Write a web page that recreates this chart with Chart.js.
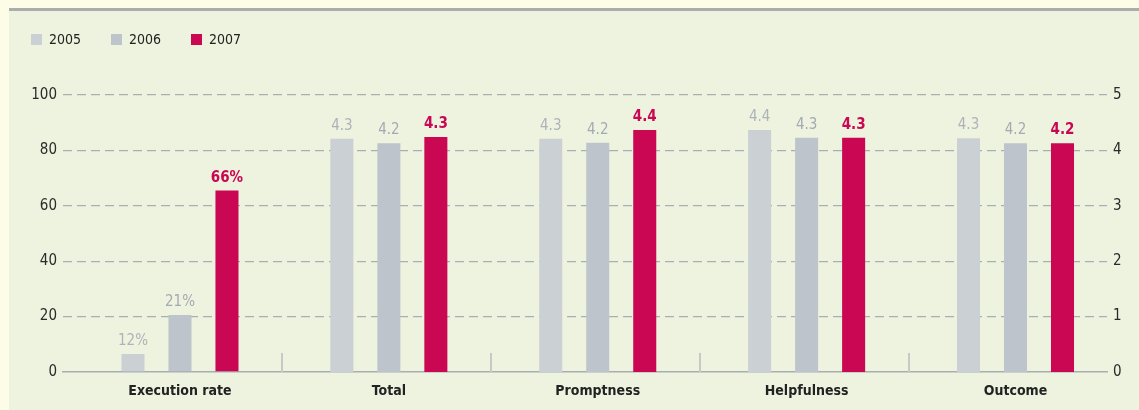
<!DOCTYPE html>
<html>
<head>
<meta charset="utf-8">
<script src="https://cdn.jsdelivr.net/npm/chart.js@4.4.0/dist/chart.umd.min.js"></script>
<style>
  html, body { margin: 0; padding: 0; background: #fdfde7; width: 1139px; height: 410px; overflow: hidden; }
  .panel { position: absolute; left: 9px; top: 8px; width: 1130px; height: 399px; background: #eef3df; border-top: 3px solid #aaadab; }
  .panel canvas { position: absolute; left: 0; top: 0; }
  .legend { position: absolute; left: 22px; top: 20px; display: flex; font-family: "Liberation Sans Narrow", "DejaVu Sans Condensed", Roboto, sans-serif; font-size: 14px; color: #222; }
  .legend .item { width: 80px; display: flex; align-items: center; }
  .legend .box { width: 11px; height: 11px; margin-right: 7px; }
</style>
</head>
<body>
<div class="panel">
  <canvas id="chart" width="1130" height="399"></canvas>
  <div class="legend" id="legend"></div>
</div>
<script>
const FONT = '"Liberation Sans Narrow", "DejaVu Sans Condensed", Roboto, sans-serif';

const categories = ['Execution rate', 'Total', 'Promptness', 'Helpfulness', 'Outcome'];
const years = ['2005', '2006', '2007'];
const yearColors = ['#cbd0d4', '#bdc4cb', '#c90752'];
const labelColors = ['#adb3b9', '#a3aab2', '#c90752'];

// execution rate (left axis, %), one value per year
const rateValues = [6.5, 20.6, 65.5];
const rateLabels = ['12%', '21%', '66%'];

// satisfaction scores (right axis, 0-5) for Total, Promptness, Helpfulness, Outcome
const score2005 = [4.21, 4.21, 4.37, 4.22];
const score2006 = [4.13, 4.14, 4.23, 4.13];
const score2007 = [4.24, 4.37, 4.23, 4.13];
const scoreLabels2005 = ['4.3', '4.3', '4.4', '4.3'];
const scoreLabels2006 = ['4.2', '4.2', '4.3', '4.2'];
const scoreLabels2007 = ['4.3', '4.4', '4.3', '4.2'];

const leftTicks = [0, 20, 40, 60, 80, 100];
const rightTicks = [0, 1, 2, 3, 4, 5];

const scores = [score2005, score2006, score2007];
const scoreLabels = [scoreLabels2005, scoreLabels2006, scoreLabels2007];

// html legend
const legendEl = document.getElementById('legend');
years.forEach((y, i) => {
    legendEl.innerHTML += '<div class="item"><span class="box" style="background:' + yearColors[i] + '"></span>' + y + '</div>';
});

const datasets = [];
years.forEach((y, i) => {
    datasets.push({
        label: y,
        yAxisID: 'y',
        data: [{ x: 0, y: rateValues[i] }],
        valueLabels: [rateLabels[i]],
        backgroundColor: yearColors[i],
        labelColor: labelColors[i],
        labelBold: i === 2,
    });
});
years.forEach((y, i) => {
    datasets.push({
        label: y,
        yAxisID: 'y1',
        data: scores[i].map((v, k) => ({ x: k + 1, y: v })),
        valueLabels: scoreLabels[i],
        backgroundColor: yearColors[i],
        labelColor: labelColors[i],
        labelBold: i === 2,
    });
});

// value labels above the bars
const valueLabelPlugin = {
    id: 'valueLabels',
    afterDatasetsDraw(chart) {
        const ctx = chart.ctx;
        chart.data.datasets.forEach((ds, di) => {
            const meta = chart.getDatasetMeta(di);
            meta.data.forEach((bar, k) => {
                ctx.save();
                ctx.font = (ds.labelBold ? 'bold ' : '') + '15px ' + FONT;
                ctx.fillStyle = ds.labelColor;
                ctx.textAlign = 'center';
                ctx.textBaseline = 'alphabetic';
                ctx.fillText(ds.valueLabels[k], bar.x, bar.y - 9);
                ctx.restore();
            });
        });
    }
};

// short separators between the groups
const separatorPlugin = {
    id: 'separators',
    afterDraw(chart) {
        const ctx = chart.ctx;
        const x = chart.scales.x;
        const bottom = chart.chartArea.bottom;
        ctx.save();
        ctx.strokeStyle = '#c5cac6';
        ctx.lineWidth = 2;
        for (let i = 0; i < categories.length - 1; i++) {
            const px = Math.round(x.getPixelForValue(i + 0.5)) - 2;
            ctx.beginPath();
            ctx.moveTo(px, bottom - 19);
            ctx.lineTo(px, bottom);
            ctx.stroke();
        }
        ctx.restore();
    }
};

new Chart(document.getElementById('chart').getContext('2d'), {
    type: 'bar',
    data: { datasets: datasets },
    options: {
        responsive: false,
        animation: false,
        skipNull: true,
        categoryPercentage: 0.675,
        barPercentage: 0.49,
        layout: { padding: { top: 84, left: 0, right: 0, bottom: 0 } },
        plugins: {
            legend: { display: false },
            tooltip: { enabled: false },
        },
        scales: {
            x: {
                type: 'linear',
                offset: false,
                min: -0.56,
                max: 4.438,
                afterBuildTicks(scale) {
                    scale.ticks = categories.map((c, i) => ({ value: i }));
                },
                afterFit(scale) { scale.height = 38; },
                grid: { display: false, drawTicks: false },
                border: { display: true, color: '#a8adb3', width: 1.5 },
                ticks: {
                    callback: (v) => categories[v],
                    color: '#222',
                    padding: 11,
                    maxRotation: 0,
                    autoSkip: false,
                    font: { family: FONT, size: 14, weight: 'bold' },
                },
            },
            y: {
                position: 'left',
                min: leftTicks[0],
                max: leftTicks[leftTicks.length - 1],
                afterBuildTicks(scale) { scale.ticks = leftTicks.map(v => ({ value: v })); },
                afterFit(scale) { scale.width = 54; },
                border: { display: false, dash: [9, 5] },
                grid: {
                    drawTicks: false,
                    color: (c) => c.tick && c.tick.value === 0 ? 'rgba(0,0,0,0)' : '#a9aeb3',
                    lineWidth: 1.3,
                },
                ticks: { color: '#2a2a2a', padding: 6, font: { family: FONT, size: 15 } },
            },
            y1: {
                position: 'right',
                min: rightTicks[0],
                max: rightTicks[rightTicks.length - 1],
                afterBuildTicks(scale) { scale.ticks = rightTicks.map(v => ({ value: v })); },
                afterFit(scale) { scale.width = 32; },
                border: { display: false },
                grid: { display: false, drawTicks: false },
                ticks: { color: '#2a2a2a', padding: 6, font: { family: FONT, size: 15 } },
            },
        },
    },
    plugins: [valueLabelPlugin, separatorPlugin],
});
</script>
</body>
</html>
